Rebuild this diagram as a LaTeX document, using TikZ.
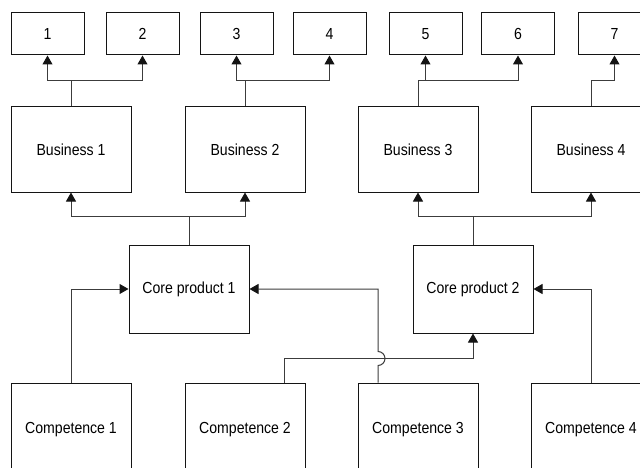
\documentclass[tikz,border=0pt]{standalone}
\usepackage{fontspec}
\setmainfont{Liberation Sans}[FakeStretch=0.88]
\usepackage{tikz}
\usetikzlibrary{arrows.meta,calc,positioning}
\definecolor{ink}{HTML}{141414}
\definecolor{wire}{HTML}{3C3C3C}
\definecolor{paper}{HTML}{FFFFFF}
\tikzset{
  linkarr/.style={-{Triangle[length=9pt,width=10pt,ink]},line width=1pt,color=wire},
  cardbase/.style={draw=ink,fill=paper,line width=1pt,align=center,inner sep=0pt,font=\fontsize{16}{18}\selectfont},
  numbox/.style={cardbase,minimum width=73pt,minimum height=42pt},
  bizbox/.style={cardbase,minimum width=120pt,minimum height=85pt},
  corebox/.style={cardbase,minimum width=120pt,minimum height=88pt},
  compbox/.style={cardbase,minimum width=120pt,minimum height=94pt}
}

\begin{document}
\begin{tikzpicture}[x=1pt,y=-1pt]
  \useasboundingbox (0,0) rectangle (640,468);
  \clip (0,0) rectangle (640,468);
  \fill[paper] (0,0) rectangle (640,468);
  % top row
  \foreach \k/\cx in {1/47.5,2/142.5,3/236.5,4/329.5,5/425.5,6/518,7/614.5} {
    \node[numbox] (t\k) at (\cx,34) {\k};
  }
  % businesses
  \foreach \k/\cx in {1/71,2/245,3/418,4/591} {
    \node[bizbox] (bus\k) at (\cx,149.5) {\raisebox{-3pt}{Business \k}};
  }
  % core products
  \node[corebox] (core1) at (189,289) {\raisebox{-2pt}{Core product 1}};
  \node[corebox] (core2) at (473,289) {\raisebox{-2pt}{Core product 2}};
  % competences
  \foreach \k/\cx in {1/71,2/245,3/418,4/591} {
    \node[compbox] (comp\k) at (\cx,430) {Competence \k};
  }
  % business -> numbered boxes
  \draw[linkarr] (bus1.north) -- ++(0,-26) -| (t1.south);
  \draw[linkarr] (bus1.north) -- ++(0,-26) -| (t2.south);
  \draw[linkarr] (bus2.north) -- ++(0,-26) -| (t3.south);
  \draw[linkarr] (bus2.north) -- ++(0,-26) -| (t4.south);
  \draw[linkarr] (bus3.north) -- ++(0,-26) -| (t5.south);
  \draw[linkarr] (bus3.north) -- ++(0,-26) -| (t6.south);
  \draw[linkarr] (bus4.north) -- ++(0,-26) -| (t7.south);
  % core -> business
  \draw[linkarr] (core1.north) -- ++(0,-28) -| (bus1.south);
  \draw[linkarr] (core1.north) -- ++(0,-28) -| (bus2.south);
  \draw[linkarr] (core2.north) -- ++(0,-28) -| (bus3.south);
  \draw[linkarr] (core2.north) -- ++(0,-28) -| (bus4.south);
  % competence -> core
  \draw[linkarr] (comp1.north) |- (core1.west);
  \draw[linkarr] ([xshift=39pt]comp2.north) -- ++(0,-24) -| (core2.south);
  \draw[linkarr] ([xshift=-40pt]comp3.north) -- ++(0,-17)
    arc[start angle=90,end angle=-90,radius=7] |- (core1.east);
  \draw[linkarr] (comp4.north) |- (core2.east);
\end{tikzpicture}
\end{document}
